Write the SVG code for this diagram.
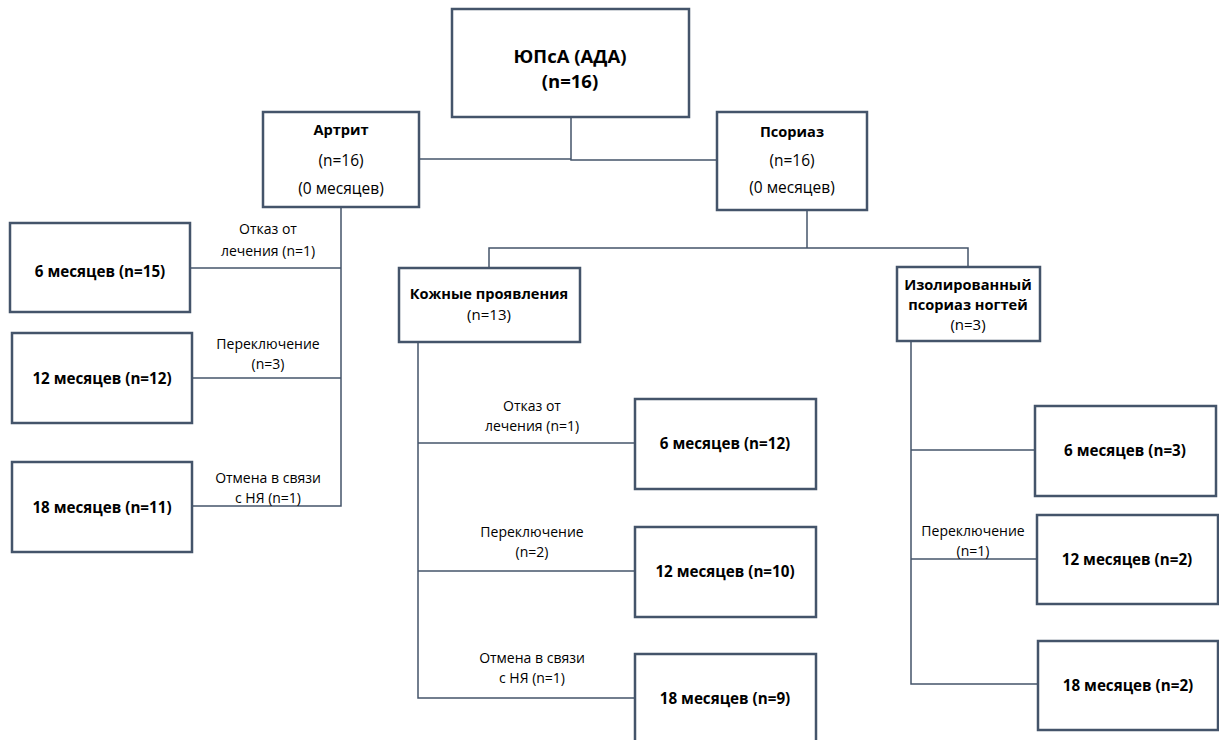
<svg xmlns="http://www.w3.org/2000/svg" width="1219" height="740" viewBox="0 0 1219 740">
<style>
.box{fill:#fff;stroke:#44546A;stroke-width:2.5}
.ln{fill:none;stroke:#44546A;stroke-width:1.5}
text{font-family:"Open Sans","Noto Sans",sans-serif;fill:#000;text-anchor:middle;dominant-baseline:central}
.b{font-weight:bold;font-size:15.2px}
.h{font-weight:bold;font-size:14.6px}
.n{font-size:14px}
.s{font-size:15.5px}
.t{font-weight:bold;font-size:18.5px}
</style>
<rect width="1219" height="740" fill="#fff"/>
<g id="connectors">
<polyline class="ln" points="571,117 571,160 717,160"/>
<line class="ln" x1="419" y1="159" x2="571" y2="159"/>
<polyline class="ln" points="341,207 341,506 192,506"/>
<line class="ln" x1="190" y1="268" x2="341" y2="268"/>
<line class="ln" x1="192" y1="378" x2="341" y2="378"/>
<polyline class="ln" points="807,210 807,248"/>
<polyline class="ln" points="489,267 489,248 968,248 968,267"/>
<polyline class="ln" points="418,342 418,698 635,698"/>
<line class="ln" x1="418" y1="443" x2="635" y2="443"/>
<line class="ln" x1="418" y1="571" x2="635" y2="571"/>
<polyline class="ln" points="911,341 911,684 1038,684"/>
<line class="ln" x1="911" y1="450" x2="1035" y2="450"/>
<line class="ln" x1="911" y1="559" x2="1037" y2="559"/>
<text class="n" x="268" y="228">Отказ от</text>
<text class="n" x="268" y="250">лечения (n=1)</text>
<text class="n" x="268" y="343">Переключение</text>
<text class="n" x="268" y="363">(n=3)</text>
<text class="n" x="268" y="477">Отмена в связи</text>
<text class="n" x="268" y="497">с НЯ (n=1)</text>
<text class="n" x="532" y="405">Отказ от</text>
<text class="n" x="532" y="425">лечения (n=1)</text>
<text class="n" x="532" y="531">Переключение</text>
<text class="n" x="532" y="551">(n=2)</text>
<text class="n" x="532" y="657">Отмена в связи</text>
<text class="n" x="532" y="677">с НЯ (n=1)</text>
<text class="n" x="973" y="530">Переключение</text>
<text class="n" x="973" y="550">(n=1)</text>
</g>
<g id="root">
<rect class="box" x="452" y="9" width="237" height="108"/>
<text class="t" x="570" y="55">ЮПсА (АДА)</text>
<text class="t" x="570" y="80">(n=16)</text>
</g>
<g id="arthritis">
<rect class="box" x="263" y="112" width="156" height="95"/>
<text class="h" x="341" y="129">Артрит</text>
<text class="s" x="341" y="160">(n=16)</text>
<text class="s" x="341" y="188">(0 месяцев)</text>
</g>
<g id="psoriasis">
<rect class="box" x="717" y="112" width="150" height="98"/>
<text class="h" x="792" y="131">Псориаз</text>
<text class="s" x="792" y="160">(n=16)</text>
<text class="s" x="792" y="187">(0 месяцев)</text>
</g>
<g id="a6">
<rect class="box" x="10" y="223" width="180" height="89"/>
<text class="b" x="100" y="271">6 месяцев (n=15)</text>
</g>
<g id="a12">
<rect class="box" x="12" y="333" width="180" height="90"/>
<text class="b" x="102" y="378">12 месяцев (n=12)</text>
</g>
<g id="a18">
<rect class="box" x="12" y="462" width="180" height="90"/>
<text class="b" x="102" y="507">18 месяцев (n=11)</text>
</g>
<g id="skin">
<rect class="box" x="399" y="268" width="181" height="74"/>
<text class="h" x="489" y="293">Кожные проявления</text>
<text class="s" x="489" y="314" style="font-size:15px">(n=13)</text>
</g>
<g id="nails">
<rect class="box" x="897" y="267" width="143" height="74"/>
<text class="h" x="968" y="284">Изолированный</text>
<text class="h" x="968" y="304">псориаз ногтей</text>
<text class="s" x="968" y="324" style="font-size:15px">(n=3)</text>
</g>
<g id="s6">
<rect class="box" x="635" y="399" width="181" height="90"/>
<text class="b" x="725" y="443">6 месяцев (n=12)</text>
</g>
<g id="s12">
<rect class="box" x="635" y="527" width="181" height="90"/>
<text class="b" x="725" y="571">12 месяцев (n=10)</text>
</g>
<g id="s18">
<rect class="box" x="635" y="654" width="181" height="90"/>
<text class="b" x="725" y="698">18 месяцев (n=9)</text>
</g>
<g id="n6">
<rect class="box" x="1035" y="406" width="181" height="90"/>
<text class="b" x="1125" y="450">6 месяцев (n=3)</text>
</g>
<g id="n12">
<rect class="box" x="1037" y="515" width="181" height="89"/>
<text class="b" x="1127" y="559">12 месяцев (n=2)</text>
</g>
<g id="n18">
<rect class="box" x="1038" y="641" width="180" height="89"/>
<text class="b" x="1128" y="685">18 месяцев (n=2)</text>
</g>
</svg>
